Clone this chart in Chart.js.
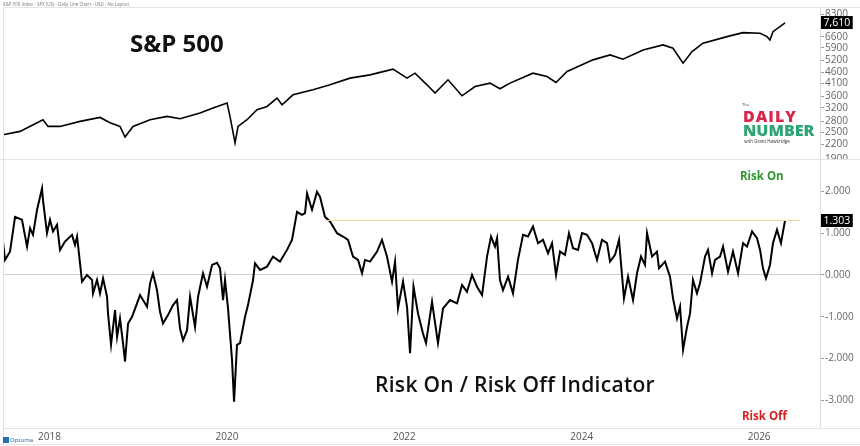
<!DOCTYPE html>
<html>
<head>
<meta charset="utf-8">
<script src="https://cdn.jsdelivr.net/npm/chart.js@4.4.1/dist/chart.umd.min.js"></script>
<style>
  body { margin: 0; background: #fff; }
  #wrap { position: relative; width: 860px; height: 446px; overflow: hidden; font-family: "Open Sans", sans-serif; background: #fff; }
  #topBox { position: absolute; left: 0; top: 0; width: 860px; height: 159px; overflow: hidden; }
  #top { position: absolute; left: 0; top: 0; }
  #bottom { position: absolute; left: 0; top: 150px; }
  .t { position: absolute; white-space: nowrap; line-height: 1; }
  .ln { position: absolute; background: #e4e4e4; }
</style>
</head>
<body>
<div id="wrap">
  <div id="topBox"><canvas id="top" width="860" height="171"></canvas></div>
  <canvas id="bottom" width="860" height="296"></canvas>

  <div class="ln" style="left:3px;top:7px;width:857px;height:1px"></div>
  <div class="ln" style="left:3px;top:7px;width:1px;height:439px"></div>
  <div class="ln" style="left:0;top:159px;width:860px;height:1px"></div>
  <div class="ln" style="left:3px;top:428px;width:857px;height:1px"></div>
  <div class="ln" style="left:0;top:444px;width:860px;height:1px"></div>

  <div class="t" style="left:3px;top:2px;font-size:4.5px;color:#777">S&amp;P 500 Index - SPX (US) - Daily Line Chart - USD - No Layout</div>
  <div class="t" style="left:130px;top:31px;font-size:24px;font-weight:700;color:#111">S&amp;P 500</div>
  <div class="t" style="left:375px;top:374px;font-size:21px;font-weight:600;color:#111;letter-spacing:0.3px">Risk On / Risk Off Indicator</div>
  <div class="t" style="left:740px;top:170px;font-size:11.5px;font-weight:700;color:#2a9a2a">Risk On</div>
  <div class="t" style="left:742px;top:410px;font-size:11.5px;font-weight:700;color:#d41f1f">Risk Off</div>

  <div class="t" style="left:742px;top:103px;font-size:4px;color:#333">The</div>
  <div class="t" style="left:743px;top:108px;font-size:16px;font-weight:800;color:#d9264a;letter-spacing:1px">DAILY</div>
  <div class="t" style="left:743px;top:122px;font-size:16px;font-weight:800;color:#2ba574">NUMBER</div>
  <div class="t" style="left:744px;top:139px;font-size:4.5px;color:#333">with Grant Hawkridge</div>

  <div style="position:absolute;left:3px;top:437px;width:6px;height:6px;background:#1d6fb8"></div>
  <div class="t" style="left:10px;top:437px;font-size:6px;color:#1d5a96">Optuma</div>
</div>

<script>
// S&P 500, daily line (decimal years)
const spxYears = [2017.604, 2017.796, 2018.055, 2018.112, 2018.247, 2018.472, 2018.698, 2018.811, 2018.923, 2018.980,
  2019.070, 2019.262, 2019.453, 2019.600, 2019.825, 2019.972, 2020.130, 2020.163, 2020.220, 2020.254,
  2020.355, 2020.468, 2020.581, 2020.693, 2020.750, 2020.874, 2021.099, 2021.291, 2021.516, 2021.742,
  2021.821, 2022.001, 2022.159, 2022.249, 2022.384, 2022.475, 2022.621, 2022.779, 2022.926, 2023.095,
  2023.207, 2023.320, 2023.579, 2023.737, 2023.839, 2023.963, 2024.256, 2024.448, 2024.594, 2024.820,
  2025.045, 2025.158, 2025.271, 2025.372, 2025.496, 2025.767, 2025.947, 2026.139, 2026.218, 2026.251,
  2026.285, 2026.421];
const spxValues = [2435, 2519, 2837, 2650, 2650, 2789, 2904, 2751, 2650, 2379,
  2650, 2837, 2934, 2866, 3037, 3196, 3362, 2934, 2238, 2650,
  2837, 3141, 3248, 3538, 3305, 3658, 3849, 4050, 4336, 4483,
  4562, 4751, 4336, 4562, 4050, 3722, 4262, 3621, 3981, 4121,
  3889, 4121, 4562, 4407, 4146, 4637, 5223, 5496, 5260, 5782,
  6084, 5883, 5051, 5683, 6190, 6620, 6895, 6853, 6620, 6402,
  6966, 7610];
const spxTicks = [1900, 2200, 2500, 2800, 3200, 3600, 4100, 4600, 5200, 5900, 6600, 8300];

// Risk On / Risk Off indicator
const riskYears = [2017.604, 2017.627, 2017.683, 2017.740, 2017.818, 2017.875, 2017.909, 2017.942, 2017.988, 2018.044,
  2018.055, 2018.100, 2018.134, 2018.168, 2018.213, 2018.247, 2018.303, 2018.382, 2018.416, 2018.439,
  2018.495, 2018.551, 2018.608, 2018.619, 2018.664, 2018.698, 2018.732, 2018.777, 2018.788, 2018.822,
  2018.867, 2018.890, 2018.923, 2018.957, 2018.980, 2019.014, 2019.059, 2019.115, 2019.149, 2019.228,
  2019.262, 2019.295, 2019.340, 2019.374, 2019.408, 2019.464, 2019.521, 2019.566, 2019.600, 2019.634,
  2019.679, 2019.713, 2019.769, 2019.803, 2019.859, 2019.904, 2019.961, 2020.017, 2020.051, 2020.085,
  2020.107, 2020.141, 2020.186, 2020.209, 2020.242, 2020.276, 2020.333, 2020.366, 2020.423, 2020.445,
  2020.502, 2020.581, 2020.648, 2020.727, 2020.806, 2020.862, 2020.919, 2020.975, 2021.009, 2021.032,
  2021.088, 2021.144, 2021.178, 2021.234, 2021.291, 2021.370, 2021.437, 2021.494, 2021.550, 2021.607,
  2021.652, 2021.685, 2021.742, 2021.821, 2021.877, 2021.933, 2021.990, 2022.024, 2022.057, 2022.114,
  2022.159, 2022.193, 2022.232, 2022.283, 2022.339, 2022.373, 2022.441, 2022.508, 2022.565, 2022.644,
  2022.723, 2022.779, 2022.835, 2022.892, 2022.948, 2023.005, 2023.061, 2023.106, 2023.151, 2023.174,
  2023.207, 2023.241, 2023.298, 2023.354, 2023.410, 2023.467, 2023.523, 2023.579, 2023.636, 2023.692,
  2023.749, 2023.794, 2023.839, 2023.884, 2023.940, 2023.985, 2024.031, 2024.087, 2024.132, 2024.188,
  2024.245, 2024.301, 2024.357, 2024.414, 2024.448, 2024.504, 2024.549, 2024.605, 2024.651, 2024.707,
  2024.752, 2024.797, 2024.842, 2024.865, 2024.921, 2024.977, 2025.000, 2025.068, 2025.124, 2025.158,
  2025.203, 2025.237, 2025.271, 2025.316, 2025.350, 2025.383, 2025.428, 2025.462, 2025.519, 2025.552,
  2025.598, 2025.631, 2025.688, 2025.722, 2025.778, 2025.834, 2025.891, 2025.947, 2025.992, 2026.049,
  2026.105, 2026.139, 2026.172, 2026.206, 2026.251, 2026.285, 2026.330, 2026.375, 2026.398, 2026.421];
const riskValues = [0.80, 0.36, 0.56, 1.39, 1.32, 0.68, 1.12, 0.96, 1.56, 2.07,
  1.79, 1.00, 1.32, 1.04, 1.20, 0.60, 0.80, 0.96, 0.72, 0.92,
  -0.16, 0.00, -0.12, -0.44, -0.12, -0.44, -0.08, -0.52, -0.92, -1.67,
  -0.84, -1.48, -1.04, -1.63, -2.07, -1.16, -1.00, -0.68, -0.48, -0.76,
  -0.20, 0.04, -0.36, -0.88, -1.16, -0.96, -0.72, -0.60, -1.28, -1.56,
  -1.32, -0.52, -1.24, -0.52, 0.04, -0.28, 0.24, 0.29, 0.16, -0.60,
  -0.12, -0.80, -2.03, -3.03, -1.67, -1.63, -1.00, -0.72, -0.12, 0.28,
  0.12, 0.20, 0.44, 0.32, 0.60, 0.84, 1.51, 1.44, 1.48, 1.95,
  1.56, 1.99, 1.87, 1.39, 1.28, 1.00, 0.92, 0.84, 0.44, 0.36,
  0.04, 0.36, 0.32, 0.56, 0.84, 0.44, -0.16, 0.32, -0.80, -0.16,
  -0.76, -1.87, -0.28, -0.92, -1.40, -1.63, -0.64, -1.63, -0.80, -0.60,
  -0.68, -0.24, -0.40, 0.00, -0.28, -0.48, 0.44, 0.92, 0.68, 0.88,
  -0.12, -0.36, -0.04, -0.44, 0.36, 0.96, 0.92, 1.16, 0.76, 0.84,
  0.52, 0.76, 0.00, 0.56, 0.48, 1.00, 0.64, 0.60, 1.00, 0.96,
  0.76, 0.36, 0.84, 0.76, 0.32, 0.48, 0.84, -0.56, -0.04, -0.60,
  0.04, 0.44, 0.24, 1.00, 0.44, 0.56, 0.16, 0.32, -0.04, -0.56,
  -1.04, -0.76, -1.79, -1.24, -0.92, -0.12, -0.44, -0.20, 0.44, 0.60,
  0.04, 0.36, 0.44, 0.68, 0.08, 0.56, 0.04, 0.76, 0.68, 1.04,
  0.88, 0.60, 0.16, -0.08, 0.24, 0.76, 1.08, 0.76, 1.04, 1.303];
const riskTicks = [-3, -2, -1, 0, 1, 2];
const levelYears = [2021.24, 2026.59];
const yearTicks = [2018, 2020, 2022, 2024, 2026];

const xMin = 2017.604;
const xMax = 2026.815;
const axisFont = { family: "Open Sans", size: 10 };

// black value box on the right axis
const lastTag = {
  id: "lastTag",
  afterDraw(chart, args, opts) {
    const ctx = chart.ctx;
    const y = chart.scales.y.getPixelForValue(opts.value);
    const left = chart.chartArea.right;
    ctx.save();
    ctx.font = '10.5px "Open Sans"';
    const w = ctx.measureText(opts.text).width + 5;
    ctx.fillStyle = "#000";
    ctx.fillRect(left + 1, Math.round(y - 6.5), w, 13);
    ctx.fillStyle = "#fff";
    ctx.textBaseline = "middle";
    ctx.fillText(opts.text, left + 3.5, y + 0.5);
    ctx.restore();
  },
};

const pts = (xs, ys) => xs.map((x, i) => ({ x: x, y: ys[i] }));

new Chart(document.getElementById("top"), {
  type: "line",
  data: {
    datasets: [{
      data: pts(spxYears, spxValues),
      borderColor: "#000",
      borderWidth: 1.6,
      pointRadius: 0,
      tension: 0,
    }],
  },
  options: {
    responsive: false,
    animation: false,
    layout: { padding: { top: 8, bottom: 13, left: 3, right: 0 } },
    plugins: {
      legend: { display: false },
      tooltip: { enabled: false },
      lastTag: { value: 7610, text: "7,610" },
    },
    scales: {
      x: { type: "linear", min: xMin, max: xMax, display: false },
      y: {
        type: "logarithmic",
        position: "right",
        min: 1920,
        max: 8865,
        afterBuildTicks: (s) => { s.ticks = spxTicks.map((v) => ({ value: v })); },
        afterFit: (s) => { s.width = 40; },
        ticks: { color: "#666", font: axisFont, padding: 1, autoSkip: false, callback: (v) => String(v) },
        grid: { drawOnChartArea: false, tickLength: 4, tickColor: "#999" },
        border: { color: "#ddd" },
      },
    },
  },
  plugins: [lastTag],
});

new Chart(document.getElementById("bottom"), {
  type: "line",
  data: {
    datasets: [
      {
        data: pts(levelYears, [1.303, 1.303]),
        borderColor: "#f2d7a6",
        borderWidth: 1,
        pointRadius: 0,
      },
      {
        data: pts(riskYears, riskValues),
        borderColor: "#000",
        borderWidth: 2,
        pointRadius: 0,
        tension: 0,
      },
    ],
  },
  options: {
    responsive: false,
    animation: false,
    layout: { padding: { top: 10, bottom: 0, left: 3, right: 0 } },
    plugins: {
      legend: { display: false },
      tooltip: { enabled: false },
      lastTag: { value: 1.303, text: "1.303" },
    },
    scales: {
      x: {
        type: "linear",
        min: xMin,
        max: xMax,
        afterBuildTicks: (s) => { s.ticks = yearTicks.map((v) => ({ value: v })); },
        afterFit: (s) => { s.height = 18; },
        ticks: { color: "#555", font: axisFont, align: "start", padding: 3, maxRotation: 0, autoSkip: false, callback: (v) => String(v) },
        grid: { display: false, drawTicks: false },
        border: { display: false },
      },
      y: {
        position: "right",
        min: -3.66,
        max: 2.75,
        afterBuildTicks: (s) => { s.ticks = riskTicks.map((v) => ({ value: v })); },
        afterFit: (s) => { s.width = 40; },
        ticks: { color: "#666", font: axisFont, padding: 1, autoSkip: false, callback: (v) => v.toFixed(3) },
        grid: {
          color: (c) => (c.tick && c.tick.value === 0 ? "#cfcfcf" : "rgba(0,0,0,0)"),
          tickColor: "#999",
          tickLength: 4,
        },
        border: { color: "#ddd" },
      },
    },
  },
  plugins: [lastTag],
});
</script>
</body>
</html>
